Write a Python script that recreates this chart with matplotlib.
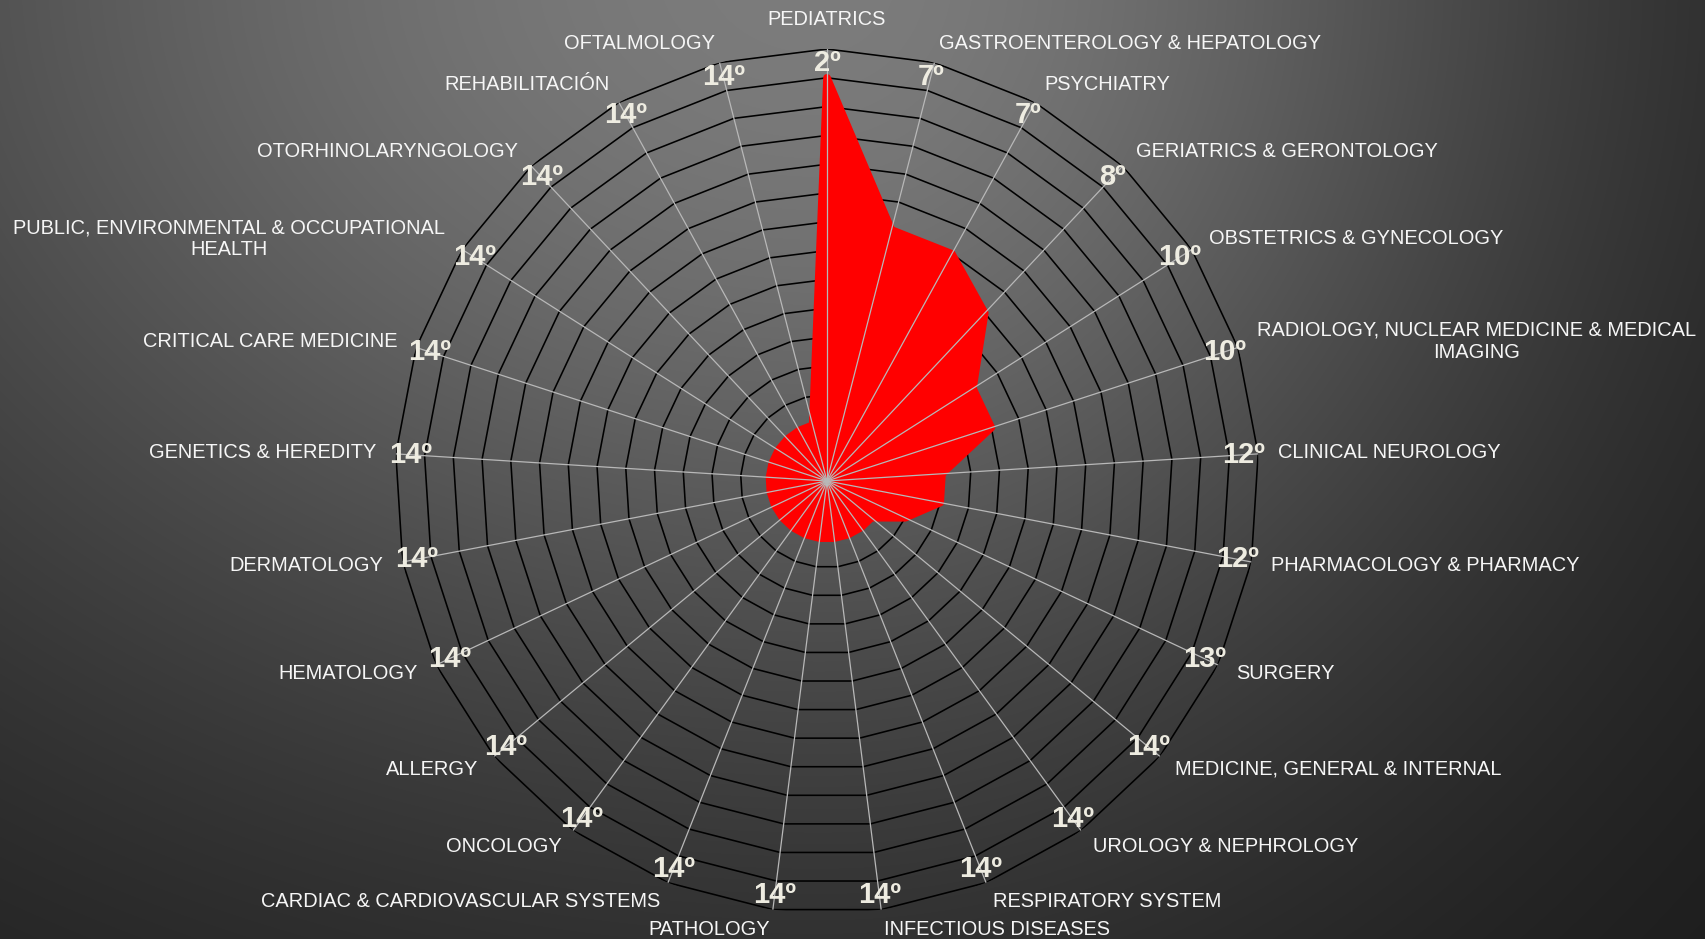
import numpy as np
import matplotlib
matplotlib.use("Agg")
import matplotlib.pyplot as plt

plt.rcParams["font.family"] = ["Liberation Sans", "DejaVu Sans"]

# specialties, clockwise from the top
categories = [
    "PEDIATRICS",
    "GASTROENTEROLOGY & HEPATOLOGY",
    "PSYCHIATRY",
    "GERIATRICS & GERONTOLOGY",
    "OBSTETRICS & GYNECOLOGY",
    "RADIOLOGY, NUCLEAR MEDICINE & MEDICAL\nIMAGING",
    "CLINICAL NEUROLOGY",
    "PHARMACOLOGY & PHARMACY",
    "SURGERY",
    "MEDICINE, GENERAL & INTERNAL",
    "UROLOGY & NEPHROLOGY",
    "RESPIRATORY SYSTEM",
    "INFECTIOUS DISEASES",
    "PATHOLOGY",
    "CARDIAC & CARDIOVASCULAR SYSTEMS",
    "ONCOLOGY",
    "ALLERGY",
    "HEMATOLOGY",
    "DERMATOLOGY",
    "GENETICS & HEREDITY",
    "CRITICAL CARE MEDICINE",
    "PUBLIC, ENVIRONMENTAL & OCCUPATIONAL\nHEALTH",
    "OTORHINOLARYNGOLOGY",
    "REHABILITACIÓN",
    "OFTALMOLOGY",
]
ranks = [2, 7, 7, 8, 10, 10, 12, 12, 13, 14, 14, 14, 14,
         14, 14, 14, 14, 14, 14, 14, 14, 14, 14, 14, 14]
# plotted score (higher = better position)
scores = [14, 9, 9, 8, 6, 6, 4, 4, 3, 2, 2, 2, 2,
          2, 2, 2, 2, 2, 2, 2, 2, 2, 2, 2, 2]
ring_levels = list(range(1, 16))
r_max = 15

W, H = 1706, 939
fig = plt.figure(figsize=(W / 100, H / 100), dpi=100)

# dark gradient background, light at top centre
bg = fig.add_axes([0, 0, 1, 1])
yy, xx = np.mgrid[0:H, 0:W]
sx = np.where(xx < 820, 1137.0, 760.0)
d2 = ((xx - 820) / sx) ** 2 + ((yy + 30) / 830.0) ** 2
shade = (24 + 100 * np.exp(-d2)) / 255.0
bg.imshow(np.dstack([shade, shade, shade]), aspect="auto", extent=[0, 1, 0, 1])
bg.axis("off")

cx, cy, rad = 827, 481, 432
ax = fig.add_axes([(cx - rad) / W, (H - cy - rad) / H, 2 * rad / W, 2 * rad / H],
                  projection="polar")
ax.set_facecolor("none")
ax.set_theta_zero_location("N")
ax.set_theta_direction(-1)
ax.set_ylim(0, r_max)
ax.grid(False)
ax.spines["polar"].set_visible(False)
ax.set_xticks([])
ax.set_yticks([])

n = len(categories)
theta = np.arange(n) * 2 * np.pi / n
theta_closed = np.append(theta, theta[0])

# polygon rings
for lev in ring_levels:
    ax.plot(theta_closed, [lev] * (n + 1), color="black", lw=1.15, zorder=1)

# red area
sc = np.append(scores, scores[0])
ax.fill(theta_closed, sc, facecolor="#FF0000", edgecolor="#FF0000",
        lw=5.5, joinstyle="round", zorder=2)

# spokes on top
for t in theta:
    ax.plot([t, t], [0, r_max], color="#B8B8B8", lw=0.9, zorder=3)

# rank labels and category names
for i, t in enumerate(theta):
    ax.text(t, 14.5, f"{ranks[i]}º", ha="center", va="center",
            fontsize=21, fontweight="bold", color="#EEECE1", zorder=5)

    dx, dy = 20 * np.sin(t), 20 * np.cos(t)
    if i == 0:
        ha, va = "center", "bottom"
    elif i <= 12:
        ha, va = "left", "center"
    else:
        ha, va = "right", "center"
    ax.annotate(categories[i], xy=(t, r_max), xytext=(dx, dy),
                textcoords="offset pixels", ha=ha, va=va,
                multialignment="center", fontsize=14.4, color="#F6F6F6",
                zorder=5, annotation_clip=False)

fig.savefig("out.png", dpi=100)
